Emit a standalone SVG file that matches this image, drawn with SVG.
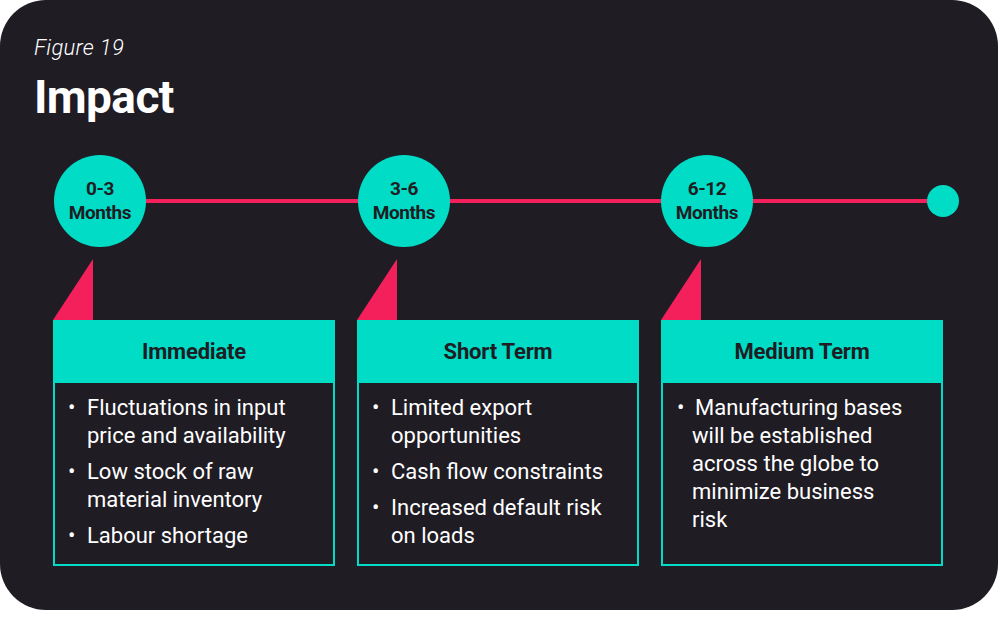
<svg xmlns="http://www.w3.org/2000/svg" width="1000" height="636" viewBox="0 0 1000 636">
<style>
.bg{fill:#1f1c24}
.teal{fill:#00dcc5}
.pink{fill:#f4205b}
.lbl{font-family:Roboto,"Liberation Sans",sans-serif;font-weight:700;font-size:19px;fill:#1f1c24;text-anchor:middle;letter-spacing:-0.4px}
.hdr{font-family:Roboto,"Liberation Sans",sans-serif;font-weight:700;font-size:22px;fill:#1f1c24;text-anchor:middle;letter-spacing:-0.2px}
.body{font-family:Roboto,"Liberation Sans",sans-serif;font-weight:400;font-size:22px;fill:#ffffff}
.box{fill:#1f1c24;stroke:#00dcc5;stroke-width:2}
</style>
<rect x="0" y="0" width="1000" height="636" fill="#ffffff"/>
<rect class="bg" x="0" y="0" width="998" height="610" rx="46" ry="46"/>
<text x="34" y="55" font-family="Roboto,'Liberation Sans',sans-serif" font-style="italic" font-weight="300" font-size="22" fill="#ffffff" letter-spacing="0.3">Figure 19</text>
<text x="34" y="113" font-family="Roboto,'Liberation Sans',sans-serif" font-weight="700" font-size="46" fill="#ffffff" letter-spacing="-0.6">Impact</text>
<g id="connectors">
<line x1="140" y1="201" x2="935" y2="201" stroke="#f4205b" stroke-width="4"/>
</g>
<g id="m1">
<circle class="teal" cx="100" cy="201" r="46"/>
<text class="lbl" x="100" y="195">0-3</text>
<text class="lbl" x="100" y="219">Months</text>
</g>
<g id="m2">
<circle class="teal" cx="404" cy="201" r="46"/>
<text class="lbl" x="404" y="195">3-6</text>
<text class="lbl" x="404" y="219">Months</text>
</g>
<g id="m3">
<circle class="teal" cx="707" cy="201" r="46"/>
<text class="lbl" x="707" y="195">6-12</text>
<text class="lbl" x="707" y="219">Months</text>
</g>
<g id="end">
<circle class="teal" cx="943" cy="201" r="16"/>
</g>
<g id="card1">
<polygon class="pink" points="53,320 93,259 93,320"/>
<rect class="box" x="54" y="321" width="280" height="244"/>
<rect class="teal" x="53" y="320" width="282" height="63"/>
<text class="hdr" x="194" y="359">Immediate</text>
<text class="body"><tspan x="68" y="415">•</tspan><tspan x="87" y="415">Fluctuations in input</tspan><tspan x="87" y="443">price and availability</tspan><tspan x="68" y="479">•</tspan><tspan x="87" y="479">Low stock of raw</tspan><tspan x="87" y="507">material inventory</tspan><tspan x="68" y="543">•</tspan><tspan x="87" y="543">Labour shortage</tspan></text>
</g>
<g id="card2">
<polygon class="pink" points="357,320 397,259 397,320"/>
<rect class="box" x="358" y="321" width="280" height="244"/>
<rect class="teal" x="357" y="320" width="282" height="63"/>
<text class="hdr" x="498" y="359">Short Term</text>
<text class="body"><tspan x="372" y="415">•</tspan><tspan x="391" y="415">Limited export</tspan><tspan x="391" y="443">opportunities</tspan><tspan x="372" y="479">•</tspan><tspan x="391" y="479">Cash flow constraints</tspan><tspan x="372" y="515">•</tspan><tspan x="391" y="515">Increased default risk</tspan><tspan x="391" y="543">on loads</tspan></text>
</g>
<g id="card3">
<polygon class="pink" points="661,320 701,259 701,320"/>
<rect class="box" x="662" y="321" width="280" height="244"/>
<rect class="teal" x="661" y="320" width="282" height="63"/>
<text class="hdr" x="802" y="359">Medium Term</text>
<text class="body"><tspan x="677" y="415">•</tspan><tspan x="695" y="415">Manufacturing bases</tspan><tspan x="692" y="443">will be established</tspan><tspan x="692" y="471">across the globe to</tspan><tspan x="692" y="499">minimize business</tspan><tspan x="692" y="527">risk</tspan></text>
</g>
</svg>
